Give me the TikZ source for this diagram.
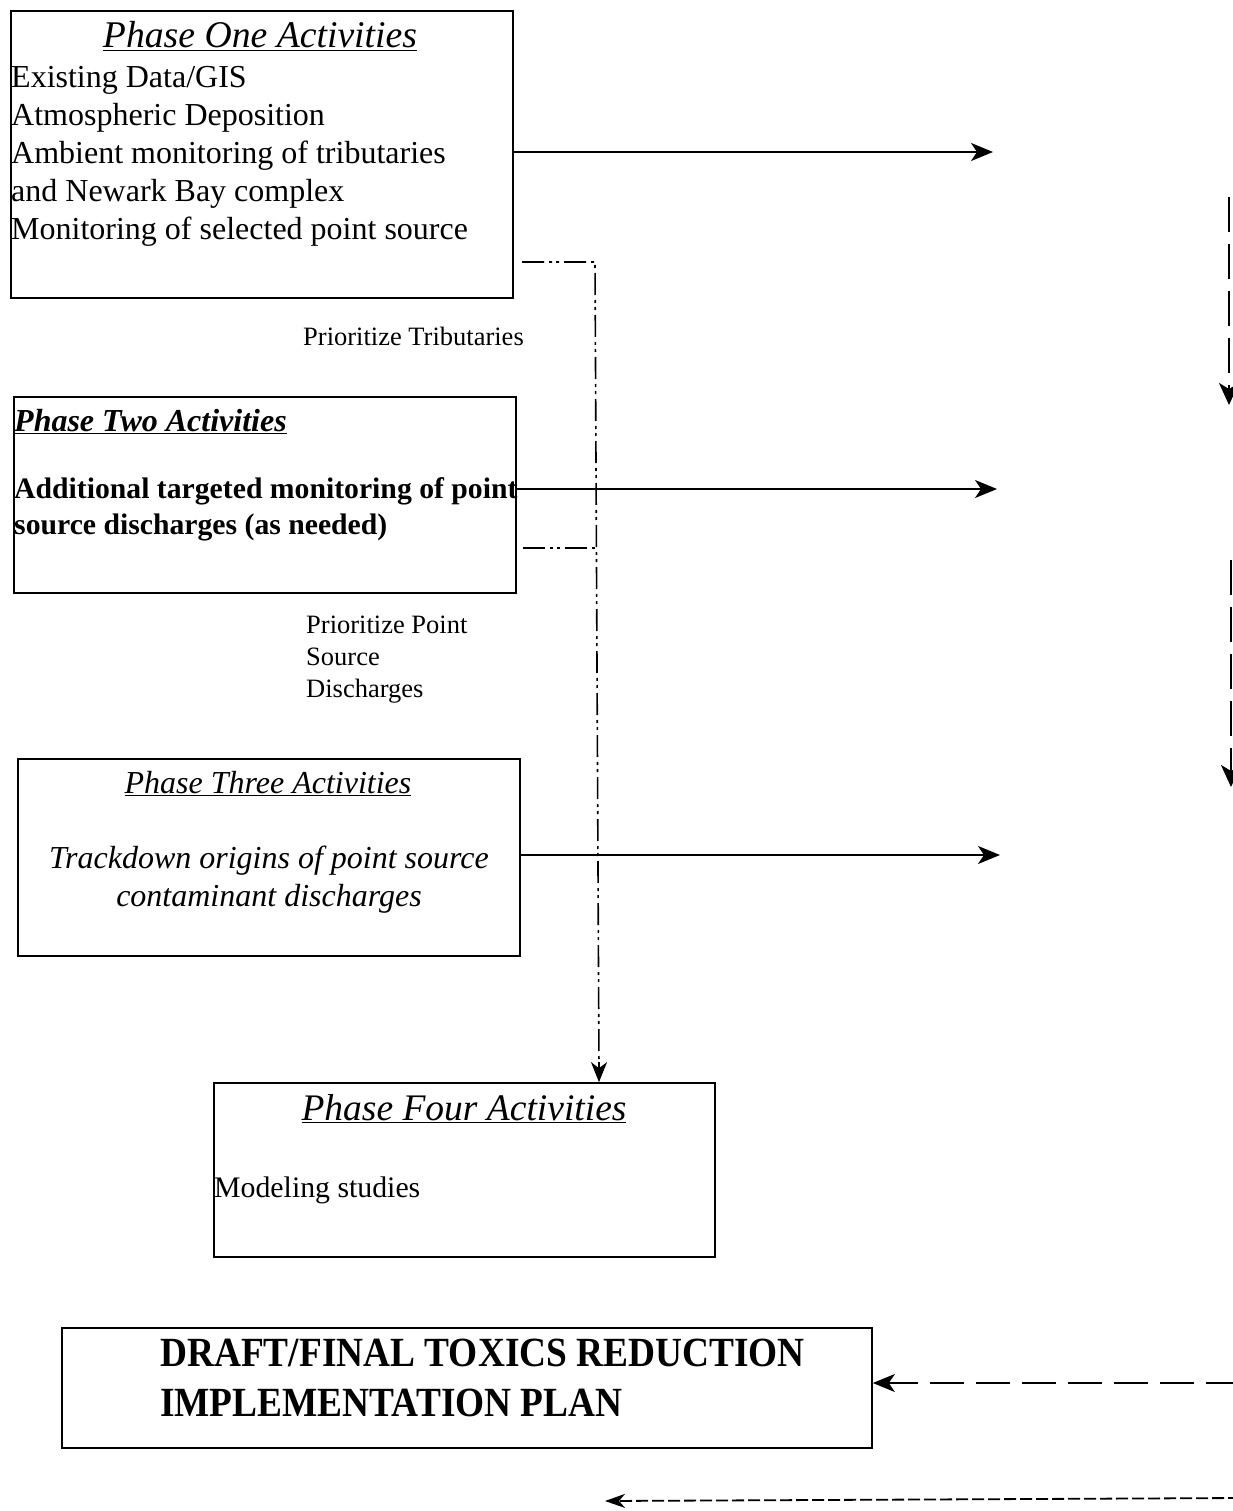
\documentclass[tikz,border=0pt]{standalone}
\usepackage{fontspec}
\setmainfont{Liberation Serif}
\newfontfamily\draftfont[FakeStretch=0.9]{Liberation Serif}
\usetikzlibrary{arrows.meta}
\begin{document}
\begin{tikzpicture}[x=1pt,y=-1pt,
  box/.style={draw, line width=1.7pt, inner sep=0pt},
  txt/.style={inner sep=0pt, anchor=base west},
  ctxt/.style={inner sep=0pt, anchor=base},
  arr/.style={line width=1.8pt, -{Stealth[length=22pt,width=18pt,inset=6pt]}},
  dashdot/.style={line width=1.6pt, dash pattern=on 22pt off 5pt on 3pt off 4pt on 3pt off 5pt},
  longdash/.style={line width=1.8pt, dash pattern=on 35pt off 12pt, -{Stealth[length=22pt,width=20pt,inset=6pt]}},
  shortdash/.style={line width=1.8pt, dash pattern=on 12pt off 4pt, -{Stealth[length=20pt,width=14pt,inset=6pt]}}
]
\useasboundingbox (0,0) rectangle (1232,1511);

% boxes
\node[box, minimum width=502pt, minimum height=287pt] (p1) at (262,154.5) {};
\node[box, minimum width=502pt, minimum height=196pt] (p2) at (265,495) {};
\node[box, minimum width=502pt, minimum height=197pt] (p3) at (269,857.5) {};
\node[box, minimum width=501pt, minimum height=174pt] (p4) at (464.5,1170) {};
\node[box, minimum width=810pt, minimum height=120pt] (dr) at (467,1388) {};

% phase one text
\node[ctxt] (t1) at (260,48) {\fontsize{37.7}{40}\selectfont\itshape\underline{Phase One Activities}};
\node[txt] (b11) at (11,88) {\fontsize{32}{37}\selectfont Existing Data/GIS};
\node[txt] (b12) at (11,126) {\fontsize{32}{37}\selectfont Atmospheric Deposition};
\node[txt] (b13) at (11,164) {\fontsize{32}{37}\selectfont Ambient monitoring of tributaries};
\node[txt] (b14) at (11,202) {\fontsize{32}{37}\selectfont and Newark Bay complex};
\node[txt] (b15) at (11,240) {\fontsize{32}{37}\selectfont Monitoring of selected point source};

% labels
\node[txt] (l1) at (303,345) {\fontsize{26.5}{30}\selectfont Prioritize Tributaries};
\node[txt] (l21) at (306,633) {\fontsize{26.5}{30}\selectfont Prioritize Point};
\node[txt] (l22) at (306,665) {\fontsize{26.5}{30}\selectfont Source};
\node[txt] (l23) at (306,697) {\fontsize{26.5}{30}\selectfont Discharges};

% phase two text
\node[txt] (t2) at (14,431) {\fontsize{32}{36}\selectfont\bfseries\itshape\underline{Phase Two Activities}};
\node[txt] (b21) at (14,498) {\fontsize{29.7}{36}\selectfont\bfseries Additional targeted monitoring of point};
\node[txt] (b22) at (14,534) {\fontsize{29.7}{36}\selectfont\bfseries source discharges (as needed)};

% phase three text
\node[ctxt] (t3) at (268,793) {\fontsize{32}{36}\selectfont\itshape\underline{Phase Three Activities}};
\node[ctxt] (b31) at (269,868) {\fontsize{32}{38}\selectfont\itshape Trackdown origins of point source};
\node[ctxt] (b32) at (269,906) {\fontsize{32}{38}\selectfont\itshape contaminant discharges};

% phase four text
\node[ctxt] (t4) at (464,1120) {\fontsize{37.5}{40}\selectfont\itshape\underline{Phase Four Activities}};
\node[txt] (b41) at (214,1197) {\fontsize{29.8}{34}\selectfont Modeling studies};

% draft text
\node[txt] (d1) at (160,1366) {\fontsize{41.5}{48}\selectfont\draftfont\bfseries DRAFT/FINAL TOXICS REDUCTION};
\node[txt] (d2) at (160,1416) {\fontsize{41.5}{48}\selectfont\draftfont\bfseries IMPLEMENTATION PLAN};

% coordinates
\coordinate (e1) at (993,152);
\coordinate (e2) at (997,489);
\coordinate (e3) at (1000,855);
\coordinate (s1) at (522,262);
\coordinate (c1) at (595,262);
\coordinate (s2) at (523,548);
\coordinate (c2) at (595,548);
\coordinate (v1s) at (1229,197);
\coordinate (v1e) at (1229,405);
\coordinate (v2s) at (1231,560);
\coordinate (v2e) at (1231,787);
\coordinate (h1s) at (1240,1383);
\coordinate (h2s) at (1240,1498);
\coordinate (h2e) at (605,1501);

% connectors
\draw[arr] (p1.east |- e1) -- (e1);
\draw[arr] (p2.east |- e2) -- (e2);
\draw[arr] (p3.east |- e3) -- (e3);
\draw[dashdot] (s1) -- (c1) -- (599,1070);
\draw[line width=1.6pt, -{Stealth[length=20pt,width=16pt,inset=6pt]}] (599,1062) -- (p4.north -| 599,0);
\draw[dashdot] (s2) -- (c2);
\draw[longdash] (v1s) -- (v1e);
\draw[longdash, line width=2.5pt] (v2s) -- (v2e);
\draw[line width=1.8pt, dash pattern=on 34pt off 12pt, -{Stealth[length=22pt,width=18pt,inset=6pt]}] (h1s) -- (dr.east |- h1s);
\draw[shortdash] (h2s) -- (h2e);
\end{tikzpicture}
\end{document}
